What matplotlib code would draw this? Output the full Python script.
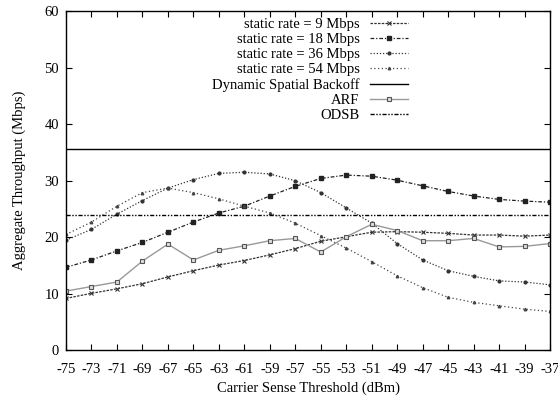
import matplotlib
matplotlib.use("Agg")
import matplotlib.pyplot as plt
import numpy as np

plt.rcParams["font.family"] = ["Liberation Serif", "DejaVu Serif"]
plt.rcParams["axes.unicode_minus"] = False

# carrier sense threshold (dBm)
thresholds = list(range(-75, -36, 2))

# aggregate throughput (Mbps)
rate_9 = [9.2, 10.1, 10.9, 11.8, 13.0, 14.1, 15.1, 15.9, 16.9, 18.0,
          19.3, 20.1, 20.9, 21.0, 20.9, 20.7, 20.4, 20.4, 20.2, 20.4]
rate_18 = [14.7, 16.0, 17.6, 19.1, 20.9, 22.7, 24.3, 25.5, 27.3, 29.0,
           30.4, 31.0, 30.8, 30.1, 29.1, 28.1, 27.3, 26.7, 26.4, 26.2]
rate_36 = [19.5, 21.4, 24.1, 26.5, 28.7, 30.2, 31.3, 31.5, 31.2, 30.0,
           27.9, 25.2, 22.5, 18.9, 16.0, 14.1, 13.1, 12.3, 12.1, 11.6]
rate_54 = [20.5, 22.7, 25.5, 27.9, 28.7, 27.9, 26.8, 25.5, 24.3, 22.5,
           20.3, 18.1, 15.7, 13.2, 11.1, 9.4, 8.5, 7.9, 7.3, 6.9]
arf = [10.5, 11.3, 12.1, 15.8, 18.8, 16.0, 17.7, 18.5, 19.4, 19.8,
       17.4, 20.1, 22.3, 21.2, 19.4, 19.4, 19.8, 18.3, 18.4, 18.9]
dsb_level = 35.6
odsb_level = 24.0

fig = plt.figure(figsize=(5.58, 4.01), dpi=100)
ax = fig.add_axes([0.1183, 0.126, 0.8674, 0.8466])

ax.plot(thresholds, rate_9, color="#333333", lw=0.9, ls=(0, (2, 1)),
        marker="x", ms=3.0, mew=0.8, label="static rate = 9 Mbps")
ax.plot(thresholds, rate_18, color="#222222", lw=0.9, ls=(0, (3, 1.5, 1, 1.5)),
        marker="s", ms=3.2, label="static rate = 18 Mbps")
ax.plot(thresholds, rate_36, color="#333333", lw=0.9, ls=(0, (1, 1.5)),
        marker="o", ms=2.0, label="static rate = 36 Mbps")
ax.plot(thresholds, rate_54, color="#444444", lw=0.9, ls=(0, (1, 2)),
        marker="^", ms=1.8, label="static rate = 54 Mbps")
ax.axhline(dsb_level, color="black", lw=1.0, label="Dynamic Spatial Backoff")
ax.plot(thresholds, arf, color="#999999", lw=1.0, ls="-",
        marker="s", ms=3.2, mfc="#dddddd", mec="#555555", mew=0.8, label="ARF")
ax.axhline(odsb_level, color="black", lw=1.0, ls=(0, (3, 1.2, 1, 1.2, 1, 1.2)),
           label="ODSB")

ax.set_xlim(-75, -37)
ax.set_ylim(0, 60)
ax.set_xticks(thresholds)
ax.set_yticks(range(0, 61, 10))
ax.tick_params(direction="in", top=True, right=True, length=4, width=0.8,
               labelsize=10.5)
ax.tick_params(axis="x", pad=9)
ax.tick_params(axis="y", pad=5)
for s in ax.spines.values():
    s.set_linewidth(1.0)

ax.set_xlabel("Carrier Sense Threshold (dBm)", fontsize=10.5, labelpad=4)
ax.set_ylabel("Aggregate Throughput (Mbps)", fontsize=10.5, labelpad=13)

ax.legend(loc="upper right", bbox_to_anchor=(0.715, 0.992), frameon=False,
          markerfirst=False, fontsize=10.5, handlelength=2.6, labelspacing=0.12,
          borderpad=0.3, borderaxespad=0.0, handletextpad=0.7)

fig.savefig("out.png", dpi=100)
